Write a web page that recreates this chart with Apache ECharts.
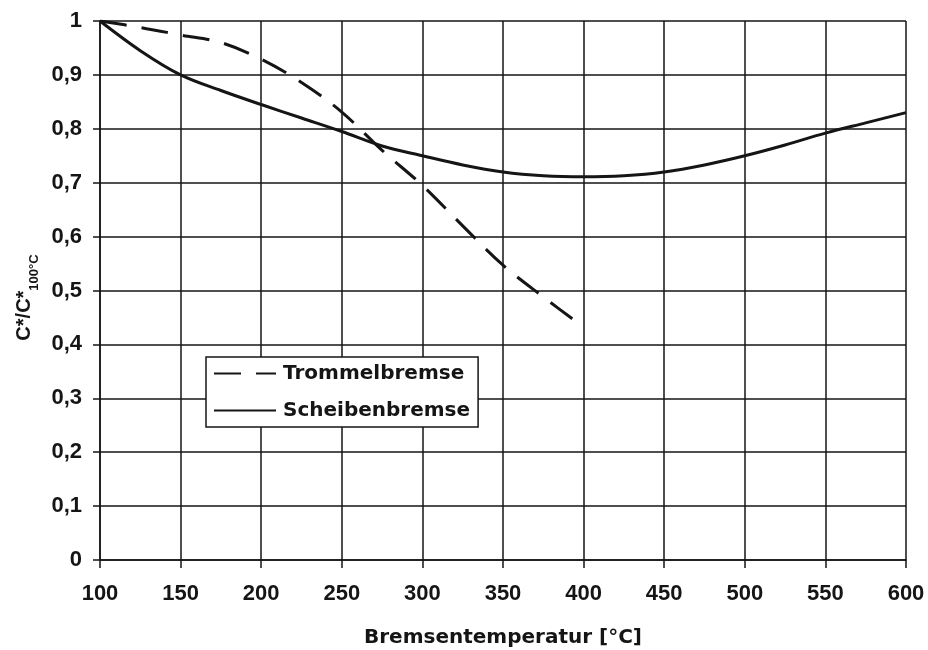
<!DOCTYPE html>
<html>
<head>
<meta charset="utf-8">
<script src="https://cdn.jsdelivr.net/npm/echarts@6/dist/echarts.min.js"></script>
<style>html,body{margin:0;padding:0;background:#fff}#c{width:928px;height:650px}</style>
</head>
<body>
<div id="c"></div>
<script>
const scheibenTemps = [100,125,150,175,200,225,250,275,300,325,350,375,400,425,450,475,500,525,550,575,600];
const scheibenValues = [1.0,0.945,0.90,0.871,0.845,0.82,0.795,0.768,0.75,0.733,0.72,0.713,0.711,0.713,0.72,0.733,0.75,0.77,0.792,0.811,0.83];
const trommelTemps = [100,125,150,175,200,225,250,275,300,325,350,375,400];
const trommelValues = [1.0,0.988,0.974,0.96,0.929,0.886,0.831,0.76,0.695,0.62,0.547,0.488,0.432];
const seriesNames = ['Trommelbremse','Scheibenbremse'];
const xTickLabels = ['100','150','200','250','300','350','400','450','500','550','600'];
const yTickLabels = ['0','0,1','0,2','0,3','0,4','0,5','0,6','0,7','0,8','0,9','1'];
const xTitle = 'Bremsentemperatur [°C]';
const yTitleMain = 'C*/C*';
const yTitleSub = '100°C';

const font = '"Liberation Sans", Arial, sans-serif';
const wideFont = '"DejaVu Sans", sans-serif';
const ink = '#151515';
const chart = echarts.init(document.getElementById('c'), null, {renderer:'canvas'});
chart.setOption({
  animation:false,
  backgroundColor:'#fff',
  textStyle:{fontFamily:font},
  grid:{left:100, right:22, top:21, bottom:90, containLabel:false, outerBoundsMode:'none'},
  legend:{
    orient:'vertical', left:206, top:357,
    data:seriesNames,
    backgroundColor:'#fff', borderColor:ink, borderWidth:1.5, borderRadius:0,
    padding:[6,8,6,7],
    itemWidth:62, itemHeight:14, itemGap:16,
    itemStyle:{color:'rgba(0,0,0,0)', borderColor:'rgba(0,0,0,0)', borderWidth:0, opacity:0},
    textStyle:{fontFamily:wideFont, fontWeight:'bold', fontSize:20, color:ink, lineHeight:21, padding:[0,0,0,2]}
  },
  xAxis:{
    type:'value', min:100, max:600, interval:50,
    name:xTitle, nameLocation:'middle', nameGap:68,
    nameTextStyle:{fontFamily:wideFont, fontWeight:'bold', fontSize:20, color:ink},
    axisLine:{show:true, onZero:false, lineStyle:{color:ink, width:1.5}},
    axisTick:{show:true, length:8, lineStyle:{color:ink, width:1.5}},
    axisLabel:{margin:23, fontFamily:font, fontWeight:'bold', fontSize:22, color:ink,
      formatter:(v)=>xTickLabels[Math.round((v-100)/50)]},
    splitLine:{show:true, lineStyle:{color:ink, width:1.5}}
  },
  yAxis:{
    type:'value', min:0, max:1, interval:0.1,
    name:'{a|'+yTitleMain+'}{b|'+yTitleSub+'}', nameLocation:'middle', nameGap:58, nameRotate:90,
    nameTextStyle:{padding:[0,0,0,-14], rich:{
      a:{fontFamily:font, fontWeight:'bold', fontSize:20, color:ink, lineHeight:26, verticalAlign:'top'},
      b:{fontFamily:font, fontWeight:'bold', fontSize:13, color:ink, lineHeight:26, verticalAlign:'bottom'}
    }},
    axisLine:{show:true, lineStyle:{color:ink, width:1.5}},
    axisTick:{show:true, length:7, lineStyle:{color:ink, width:1.5}},
    axisLabel:{margin:18, fontFamily:font, fontWeight:'bold', fontSize:22, color:ink,
      formatter:(v)=>yTickLabels[Math.round(v*10)]},
    splitLine:{show:true, lineStyle:{color:ink, width:1.5}}
  },
  series:[
    {name:seriesNames[0], type:'line', smooth:0.35, symbol:'none',
     data:trommelTemps.map((t,i)=>[t,trommelValues[i]]),
     lineStyle:{color:ink, width:3, type:[27,15]}, itemStyle:{color:ink}, z:3},
    {name:seriesNames[1], type:'line', smooth:0.35, symbol:'none',
     data:scheibenTemps.map((t,i)=>[t,scheibenValues[i]]),
     lineStyle:{color:ink, width:3, type:'solid'}, itemStyle:{color:ink}, z:3}
  ]
});
</script>
</body>
</html>
